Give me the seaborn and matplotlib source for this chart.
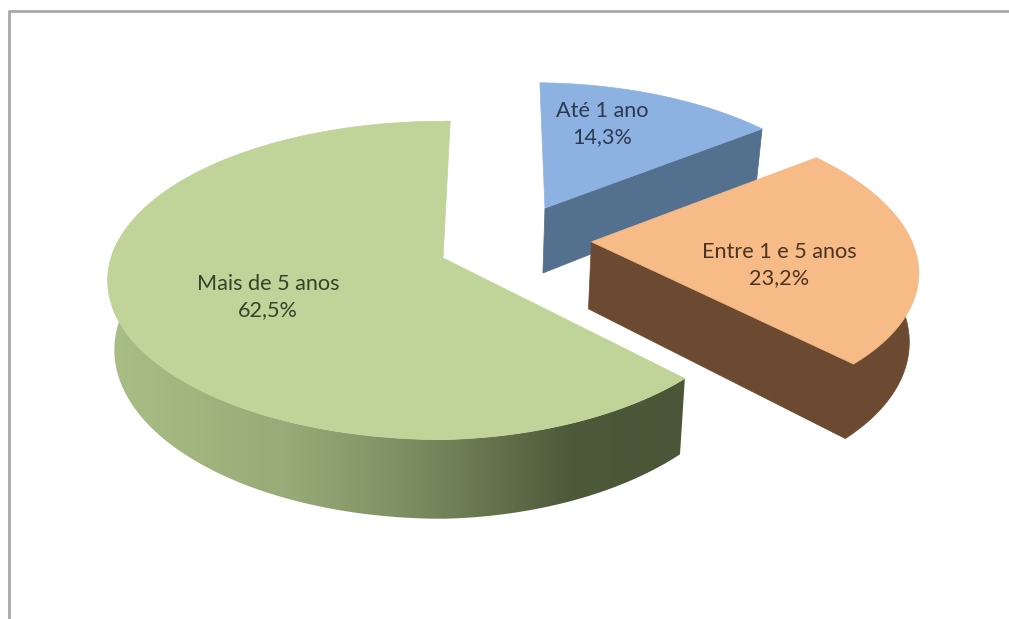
import numpy as np
import matplotlib
matplotlib.use("Agg")
import matplotlib.pyplot as plt
from matplotlib.patches import Polygon
from matplotlib.colors import LinearSegmentedColormap
import seaborn as sns

# ---- data ----
categories = ["Até 1 ano", "Entre 1 e 5 anos", "Mais de 5 anos"]
values = [14.3, 23.2, 62.5]
value_labels = ["14,3%", "23,2%", "62,5%"]

# ---- style / layout ----
top_colors = ["#8DB2E2", "#F7BB87", "#C0D398"]
wall_colors = ["#53708F", "#6B4A31", None]
text_colors = ["#2B3A4E", "#4A3423", "#36432B"]
explode = [(0.335, -0.335), (0.463, -0.105), (0.0, 0.0)]
x_compress = [0.96, 0.98, 0.95]
y_tilt = [0, 0, 8]
label_xy = [(602, 124), (779, 265), (268, 297)]
CX, CY, RX, RY, K = 443, 258, 332, 156, 0.141
ROT = 1.5
HEIGHT = 68
BOTTOM_X = 0.98

sns.set_theme(style="white")
plt.rcParams["font.family"] = ["Lato", "DejaVu Sans"]

W, H = 1009, 619
fig = plt.figure(figsize=(W / 100, H / 100), dpi=100)
ax = fig.add_axes([0, 0, 1, 1])
ax.set_xlim(0, W)
ax.set_ylim(H, 0)
ax.axis("off")


def project(X, S, i, low=False):
    X = np.asarray(X, float)
    S = np.asarray(S, float)
    w = 1.0 / (1.0 - K * S)
    x = RX * X * w
    y = RY * S * w - y_tilt[i] * np.clip(X, 0, None)
    x = np.where(x > 0, x * x_compress[i], x)
    if low:
        x = x * BOTTOM_X
        y = y + HEIGHT * w
    return CX + x, CY + y


# frame
ax.plot([8.5, 8.5, W], [H, 10.5, 10.5], color="#a8a8a8", lw=2.0, solid_capstyle="butt", zorder=1)

green_cmap = LinearSegmentedColormap.from_list(
    "wall",
    [(0.0, "#A9BE85"), (0.3, "#98AB78"), (0.5, "#7F9163"), (0.65, "#66754F"), (0.8, "#4D5A3A"), (1.0, "#4A5637")],
)

start = ROT
for i, v in enumerate(values):
    end = start + v / 100 * 360
    ang = np.radians(np.linspace(start, end, 240))
    ox, os_ = explode[i]
    Xr, Sr = ox + np.sin(ang), os_ - np.cos(ang)
    base = 10 + i * 5

    tx, ty = project(Xr, Sr, i)
    front = (Sr - os_) > -0.15
    if wall_colors[i] is not None:
        front[-1] = True  # the far end of the arc bounds the visible cut face
    fx, fy = project(Xr[front], Sr[front], i)
    bx, by = project(Xr[front], Sr[front], i, low=True)
    ax0, ay0 = project(ox, os_, i)
    ax1, ay1 = project(ox, os_, i, low=True)
    if wall_colors[i] is not None:
        c = wall_colors[i]
        # outer wall and the visible cut face as one outline; the top face covers the rest
        outline = np.r_[np.c_[bx, by], [[ax1, ay1], [ax0, ay0]], [[fx[0], fy[0]]]]
        ax.add_patch(Polygon(outline, closed=True, fc=c, ec=c, lw=0.5, zorder=base))
    else:
        rim = np.r_[np.c_[fx, fy], np.c_[bx, by][::-1]]
        clip = Polygon(rim, closed=True, fc="none", ec="none", transform=ax.transData)
        ax.add_patch(clip)
        grad = np.linspace(0, 1, 256)[None, :]
        im = ax.imshow(grad, cmap=green_cmap, extent=[bx.min() - 2, fx.max() + 2, 540, 100],
                       aspect="auto", zorder=base)
        im.set_clip_path(clip)
        ax.set_xlim(0, W)
        ax.set_ylim(H, 0)

    poly = np.r_[[[ax0, ay0]], np.c_[tx, ty]]
    ax.add_patch(Polygon(poly, closed=True, fc=top_colors[i], ec=top_colors[i], lw=0.5, zorder=base + 1))

    lx, ly = label_xy[i]
    ax.text(lx, ly, f"{categories[i]}\n{value_labels[i]}", ha="center", va="center",
            fontsize=15.6, color=text_colors[i], linespacing=1.42, zorder=30)
    start = end

fig.savefig("out.png", dpi=100, facecolor="white")
